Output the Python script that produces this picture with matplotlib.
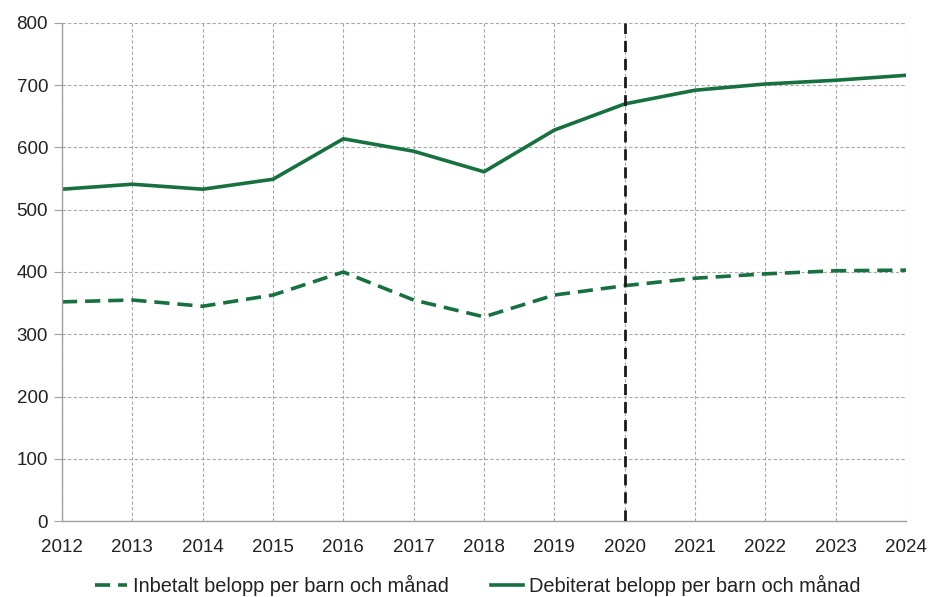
import matplotlib
matplotlib.use("Agg")
import matplotlib.pyplot as plt
from matplotlib.ticker import MultipleLocator

years = [2012, 2013, 2014, 2015, 2016, 2017, 2018, 2019, 2020, 2021, 2022, 2023, 2024]
debiterat = [533, 541, 533, 549, 614, 594, 561, 628, 670, 692, 702, 708, 716]
inbetalt = [352, 355, 345, 363, 400, 355, 328, 363, 378, 390, 397, 402, 403]
label_inbetalt = "Inbetalt belopp per barn och månad"
label_debiterat = "Debiterat belopp per barn och månad"
marker_year = 2020

plt.rcParams['font.family'] = ['Liberation Sans', 'DejaVu Sans']
green = '#17703f'

fig = plt.figure(figsize=(9.31, 5.97), dpi=100)
ax = fig.add_axes([62/931, 1-521/597, (906-62)/931, (521-23)/597])

ax.plot(years, inbetalt, color=green, lw=2.6, ls=(0, (4.2, 2.2)), label=label_inbetalt)
ax.plot(years, debiterat, color=green, lw=2.6, label=label_debiterat)
ax.axvline(marker_year, color='#1a1a1a', lw=2.0, ls=(0, (4, 2.5)), zorder=3)

ax.set_xlim(2012, 2024)
ax.set_ylim(0, 800)
ax.set_xticks(years)
ax.yaxis.set_major_locator(MultipleLocator(100))
ax.grid(True, color='#a8a8a8', ls=(0, (3, 2)), lw=0.8)
ax.set_axisbelow(True)
for s in ['top', 'right']:
    ax.spines[s].set_visible(False)
for s in ['left', 'bottom']:
    ax.spines[s].set_color('#a0a0a0')
    ax.spines[s].set_linewidth(1.0)
ax.tick_params(axis='y', length=6, color='#a0a0a0', labelsize=13.5, pad=4, labelcolor='#222222')
ax.tick_params(axis='x', length=0, labelsize=13.5, pad=13, labelcolor='#222222')

leg = fig.legend(loc='lower center', bbox_to_anchor=(0.513, -0.028), ncol=2, frameon=False,
                 fontsize=14.4, handlelength=1.6, handletextpad=0.3, columnspacing=2.1)
for t in leg.get_texts():
    t.set_color('#222222')

fig.savefig("out.png", dpi=100)
